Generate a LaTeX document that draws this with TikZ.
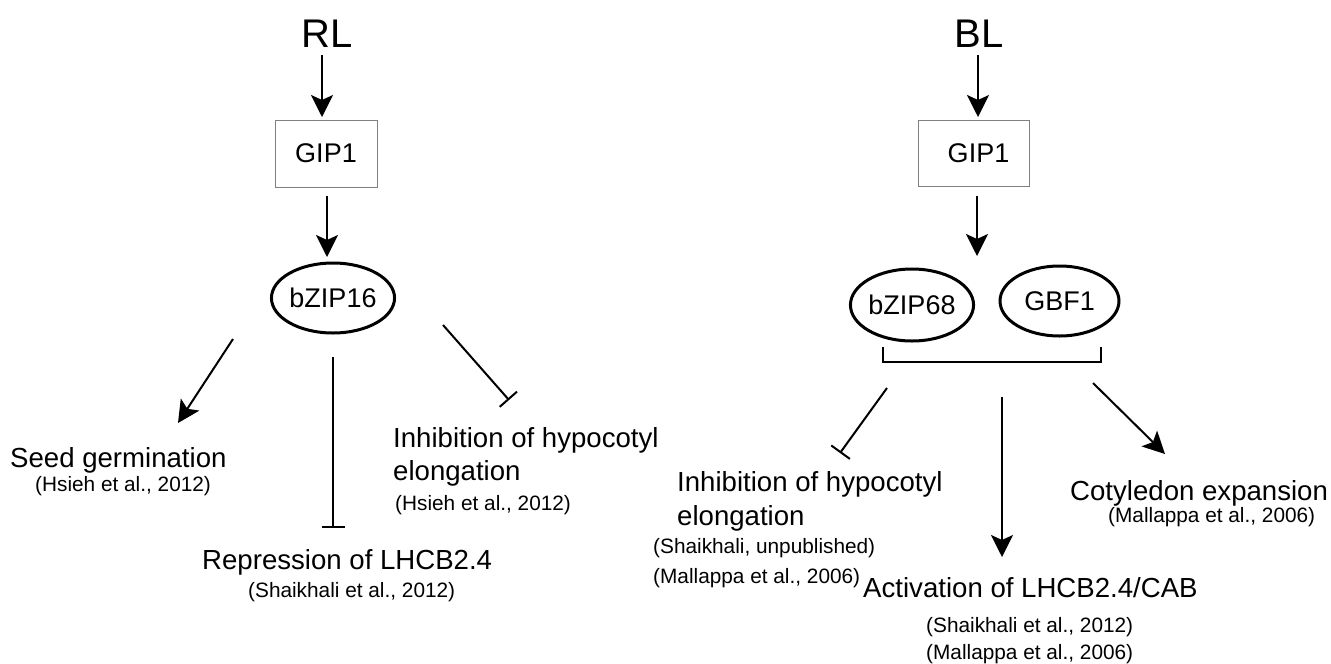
\documentclass[tikz,border=0pt]{standalone}
\usepackage{fontspec}
\setmainfont{Liberation Sans}
\usetikzlibrary{shapes.geometric,arrows.meta}
\newcommand{\myfs}[1]{\fontsize{#1}{#1}\selectfont}
\tikzset{
  big/.style={inner sep=0pt, font=\myfs{40}},
  gipbox/.style={draw=gray, line width=1pt, rectangle, inner sep=0pt, font=\myfs{27}},
  prot/.style={draw=black, line width=3pt, ellipse, inner sep=0pt, font=\myfs{27}},
  lab/.style={inner sep=0pt, anchor=base west, font=\myfs{27.6}},
  cite/.style={inner sep=0pt, anchor=base west, font=\myfs{20.8}},
  act/.style={line width=2pt, -{Stealth[length=22pt,width=22pt,inset=5pt]}},
  inh/.style={line width=2pt, -{Bar[width=23pt,line width=2pt]}},
  brk/.style={line width=2.2pt}
}
\begin{document}
\begin{tikzpicture}[x=1pt,y=-1pt]
\useasboundingbox[fill=white] (0,0) rectangle (1331,664);

% ---------- left (RL) ----------
\node[big, anchor=base] (RL) at (327,47) {RL};
\node[gipbox, minimum width=102pt, minimum height=67pt] (gipL) at (326,153.5) {GIP1};
\node[prot, minimum width=120pt, minimum height=70pt] (bz16) at (333,298) {bZIP16};

\node[lab] (seed) at (10,467) {Seed germination};
\node[cite] (seedc) at (35,491) {(Hsieh et al., 2012)};
\node[lab] (inhL1) at (393,447) {Inhibition of hypocotyl};
\node[lab] (inhL2) at (393,480) {elongation};
\node[cite] (inhLc) at (395,510) {(Hsieh et al., 2012)};
\node[lab] (rep) at (202,569) {Repression of LHCB2.4};
\node[cite] (repc) at (248,597) {(Shaikhali et al., 2012)};

\coordinate (a1s) at (322,55);   \coordinate (a1e) at (322,117);
\coordinate (a2s) at (327,196);  \coordinate (a2e) at (327,257);
\coordinate (a3s) at (233,339);  \coordinate (a3e) at (178,423);
\coordinate (a4s) at (333,357);  \coordinate (a4e) at (333,528);
\coordinate (a5s) at (443,325);  \coordinate (a5e) at (509,400);

\draw[act] (a1s) -- (a1e);
\draw[act] (a2s) -- (a2e);
\draw[act] (a3s) -- (a3e);
\draw[inh] (a4s) -- (a4e);
\draw[inh] (a5s) -- (a5e);

% ---------- right (BL) ----------
\node[big, anchor=base] (BL) at (979,47) {BL};
\node[gipbox, minimum width=111pt, minimum height=66pt] (gipR) at (973.5,153) {\hspace*{10pt}GIP1};
\node[prot, minimum width=120pt, minimum height=72pt] (bz68) at (912,305) {bZIP68};
\node[prot, minimum width=119pt, minimum height=70pt] (gbf1) at (1059.5,301) {GBF1};

\coordinate (b1) at (883,347); \coordinate (b2) at (883,362);
\coordinate (b3) at (1101,362); \coordinate (b4) at (1101,347);
\draw[brk] (b1) -- (b2) -- (b3) -- (b4);

\node[lab] (inhR1) at (677,491) {Inhibition of hypocotyl};
\node[lab] (inhR2) at (677,525) {elongation};
\node[cite] (inhRc1) at (653,553) {(Shaikhali, unpublished)};
\node[cite] (inhRc2) at (653,583) {(Mallappa et al., 2006)};
\node[lab] (actv) at (863,597) {Activation of LHCB2.4/CAB};
\node[cite] (actc1) at (926,632) {(Shaikhali et al., 2012)};
\node[cite] (actc2) at (926,659) {(Mallappa et al., 2006)};
\node[lab] (coty) at (1070,500) {Cotyledon expansion};
\node[cite] (cotyc) at (1108,522) {(Mallappa et al., 2006)};

\coordinate (c1s) at (978,55);   \coordinate (c1e) at (978,117);
\coordinate (c2s) at (977,196);  \coordinate (c2e) at (977,256);
\coordinate (c3s) at (887,388);  \coordinate (c3e) at (840,453);
\coordinate (c4s) at (1002,397); \coordinate (c4e) at (1002,557);
\coordinate (c5s) at (1093,383); \coordinate (c5e) at (1165,454);

\draw[act] (c1s) -- (c1e);
\draw[act] (c2s) -- (c2e);
\draw[inh] (c3s) -- (c3e);
\draw[act] (c4s) -- (c4e);
\draw[act] (c5s) -- (c5e);
\end{tikzpicture}
\end{document}
